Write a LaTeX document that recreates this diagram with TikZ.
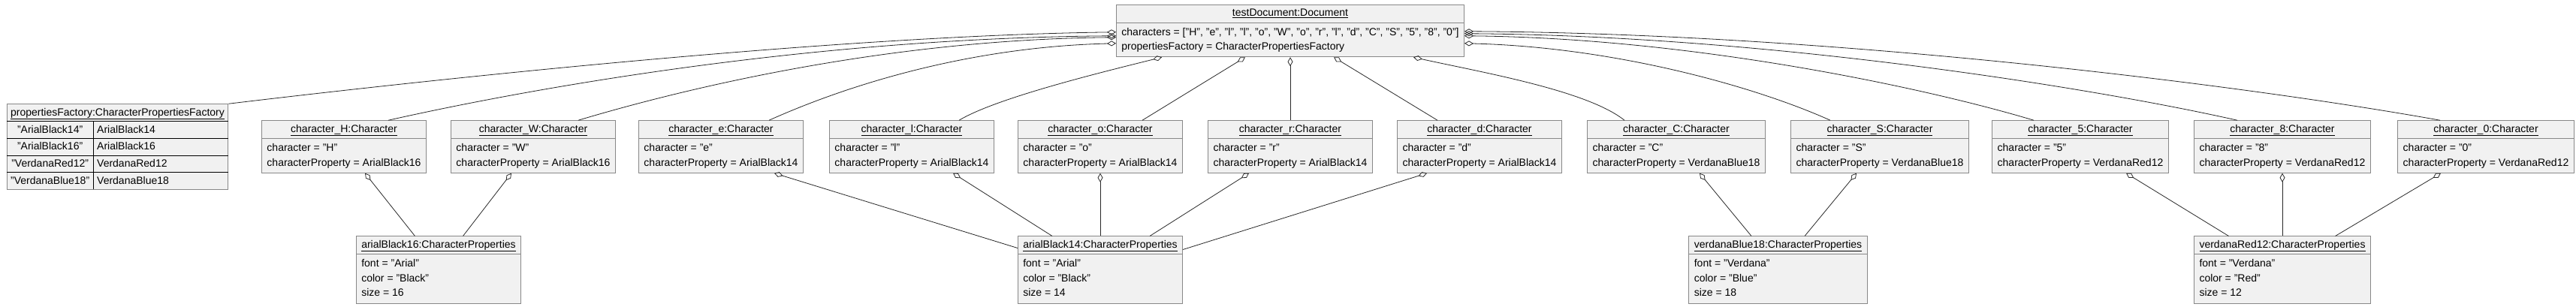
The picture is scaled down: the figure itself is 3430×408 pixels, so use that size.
\documentclass[tikz,border=0pt]{standalone}
\usepackage{fontspec}
\setmainfont{Liberation Sans}
\usepackage{tikz}
\usetikzlibrary{positioning, calc, arrows.meta, shapes.multipart}
\definecolor{boxbg}{RGB}{241, 241, 241}
\definecolor{boxline}{RGB}{136, 136, 136}
\definecolor{edge}{RGB}{40, 40, 40}
\newcommand{\objhead}[1]{\rule[-5pt]{0pt}{17pt}\underline{#1}}
\newcommand{\attrs}[1]{\renewcommand{\arraystretch}{1.15}\begin{tabular}{@{}l@{}}#1\end{tabular}}

\begin{document}
\begin{tikzpicture}[x=1pt, y=1pt, every node/.style={font=\fontsize{14pt}{17pt}\selectfont}]
    \tikzstyle{obj} = [draw=boxline, fill=boxbg, line width=0.8pt, rectangle split, rectangle split parts=2, rectangle split part align={center, left}, inner xsep=7pt, inner ysep=3pt]
    \tikzstyle{tbl} = [draw=boxline, fill=boxbg, line width=0.8pt, inner sep=0pt]
    \tikzstyle{agg} = [{Diamond[open, length=12pt, width=7pt]}-, draw=edge, line width=0.8pt]
    \useasboundingbox (0,0) rectangle (3430,408);

    % Nodes
    \node (doc) [obj] at (1718,367) {\objhead{testDocument:Document}\nodepart{two}\attrs{characters = ["H", "e", "l", "l", "o", "W", "o", "r", "l", "d", "C", "S", "5", "8", "0"]\\ propertiesFactory = CharacterPropertiesFactory}};
    \node (charR) [obj, below of=doc, node distance=154.5pt] {\objhead{character\_r:Character}\nodepart{two}\attrs{character = "r"\\ characterProperty = ArialBlack14}};
    \node (charO) [obj, left of=charR, node distance=253pt] {\objhead{character\_o:Character}\nodepart{two}\attrs{character = "o"\\ characterProperty = ArialBlack14}};
    \node (charL) [obj, left of=charO, node distance=251pt] {\objhead{character\_l:Character}\nodepart{two}\attrs{character = "l"\\ characterProperty = ArialBlack14}};
    \node (charE) [obj, left of=charL, node distance=254pt] {\objhead{character\_e:Character}\nodepart{two}\attrs{character = "e"\\ characterProperty = ArialBlack14}};
    \node (charW) [obj, left of=charE, node distance=250pt] {\objhead{character\_W:Character}\nodepart{two}\attrs{character = "W"\\ characterProperty = ArialBlack16}};
    \node (charH) [obj, left of=charW, node distance=252pt] {\objhead{character\_H:Character}\nodepart{two}\attrs{character = "H"\\ characterProperty = ArialBlack16}};
    \node (factory) [tbl, left of=charH, node distance=301.5pt] {\setlength{\tabcolsep}{5pt}\setlength{\arrayrulewidth}{0.8pt}\renewcommand{\arraystretch}{1.3}\begin{tabular}{c|l}
        \multicolumn{2}{c}{\underline{propertiesFactory:CharacterPropertiesFactory}}\\ \hline
        "ArialBlack14" & ArialBlack14\\ \hline
        "ArialBlack16" & ArialBlack16\\ \hline
        "VerdanaRed12" & VerdanaRed12\\ \hline
        "VerdanaBlue18" & VerdanaBlue18
    \end{tabular}};
    \node (charD) [obj, right of=charR, node distance=252pt] {\objhead{character\_d:Character}\nodepart{two}\attrs{character = "d"\\ characterProperty = ArialBlack14}};
    \node (charC) [obj, right of=charD, node distance=262pt] {\objhead{character\_C:Character}\nodepart{two}\attrs{character = "C"\\ characterProperty = VerdanaBlue18}};
    \node (charS) [obj, right of=charC, node distance=271pt] {\objhead{character\_S:Character}\nodepart{two}\attrs{character = "S"\\ characterProperty = VerdanaBlue18}};
    \node (char5) [obj, right of=charS, node distance=267pt] {\objhead{character\_5:Character}\nodepart{two}\attrs{character = "5"\\ characterProperty = VerdanaRed12}};
    \node (char8) [obj, right of=char5, node distance=269pt] {\objhead{character\_8:Character}\nodepart{two}\attrs{character = "8"\\ characterProperty = VerdanaRed12}};
    \node (char0) [obj, right of=char8, node distance=271pt] {\objhead{character\_0:Character}\nodepart{two}\attrs{character = "0"\\ characterProperty = VerdanaRed12}};

    \node (arialBlack16) [obj] at ($(charH)!0.5!(charW) + (0,-164)$) {\objhead{arialBlack16:CharacterProperties}\nodepart{two}\attrs{font = "Arial"\\ color = "Black"\\ size = 16}};
    \node (arialBlack14) [obj, below of=charO, node distance=164pt] {\objhead{arialBlack14:CharacterProperties}\nodepart{two}\attrs{font = "Arial"\\ color = "Black"\\ size = 14}};
    \node (verdanaBlue18) [obj] at ($(charC)!0.5!(charS) + (0,-164)$) {\objhead{verdanaBlue18:CharacterProperties}\nodepart{two}\attrs{font = "Verdana"\\ color = "Blue"\\ size = 18}};
    \node (verdanaRed12) [obj, below of=char8, node distance=164pt] {\objhead{verdanaRed12:CharacterProperties}\nodepart{two}\attrs{font = "Verdana"\\ color = "Red"\\ size = 12}};

    % Document links
    \draw [agg] ([yshift=-37pt]doc.north west) .. controls +(-380,-5) and +(250,30) .. (factory.north east);
    \draw [agg] ([yshift=-42pt]doc.north west) .. controls +(-400,-3) and +(200,45) .. ([xshift=59pt]charH.north);
    \draw [agg] ([yshift=-44pt]doc.north west) .. controls +(-300,-3) and +(150,45) .. ([xshift=60pt]charW.north);
    \draw [agg] ([yshift=-52pt]doc.north west) .. controls +(-200,-5) and +(100,45) .. ([xshift=64pt]charE.north);
    \draw [agg] ([xshift=-171pt]doc.south) .. controls +(-80,-20) and +(50,30) .. ([xshift=63pt]charL.north);
    \draw [agg] ([xshift=-60pt]doc.south) -- ([xshift=56pt]charO.north);
    \draw [agg] (doc.south) -- (charR.north);
    \draw [agg] ([xshift=58pt]doc.south) -- ([xshift=-56pt]charD.north);
    \draw [agg] ([xshift=164pt]doc.south) .. controls +(90,-20) and +(-50,40) .. ([xshift=-69pt]charC.north);
    \draw [agg] ([yshift=-52pt]doc.north east) .. controls +(200,-5) and +(-100,45) .. ([xshift=-66pt]charS.north);
    \draw [agg] ([yshift=-42pt]doc.north east) .. controls +(300,-3) and +(-150,45) .. ([xshift=-62pt]char5.north);
    \draw [agg] ([yshift=-39pt]doc.north east) .. controls +(400,-3) and +(-200,45) .. ([xshift=-60pt]char8.north);
    \draw [agg] ([yshift=-36pt]doc.north east) .. controls +(500,-3) and +(-250,45) .. ([xshift=-61pt]char0.north);

    % Property links
    \draw [agg] ([xshift=28pt]charH.south) -- ([xshift=-31.5pt]arialBlack16.north);
    \draw [agg] ([xshift=-29pt]charW.south) -- ([xshift=32.5pt]arialBlack16.north);
    \draw [agg] ([xshift=71pt]charE.south) -- ([yshift=-16pt]arialBlack14.north west);
    \draw [agg] ([xshift=55pt]charL.south) -- ([xshift=-64pt]arialBlack14.north);
    \draw [agg] (charO.south) -- (arialBlack14.north);
    \draw [agg] ([xshift=-55pt]charR.south) -- ([xshift=66pt]arialBlack14.north);
    \draw [agg] ([xshift=-70pt]charD.south) -- ([yshift=-18pt]arialBlack14.north east);
    \draw [agg] ([xshift=31pt]charC.south) -- ([xshift=-35.5pt]verdanaBlue18.north);
    \draw [agg] ([xshift=-31pt]charS.south) -- ([xshift=35.5pt]verdanaBlue18.north);
    \draw [agg] ([xshift=61pt]char5.south) -- ([xshift=-71.5pt]verdanaRed12.north);
    \draw [agg] (char8.south) -- (verdanaRed12.north);
    \draw [agg] ([xshift=-60pt]char0.south) -- ([xshift=70.5pt]verdanaRed12.north);
\end{tikzpicture}
\end{document}
